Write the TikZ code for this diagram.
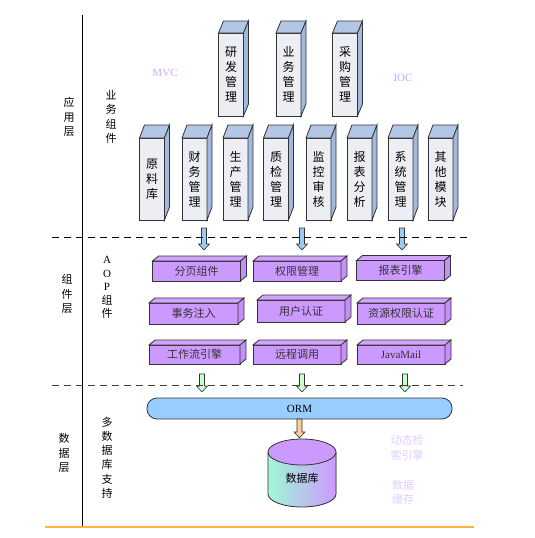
\documentclass[tikz,border=0pt]{standalone}
\usepackage{fontspec}
\setmainfont{Liberation Serif}
\newfontfamily\cjk{Noto Sans CJK SC}
\usetikzlibrary{calc}

\definecolor{facegray}{HTML}{EDEDF4}
\definecolor{facetop}{HTML}{B3C6E6}
\definecolor{faceside}{HTML}{A3B8DE}
\definecolor{violetfront}{HTML}{CC99FF}
\definecolor{violettop}{HTML}{D2A3FF}
\definecolor{violetside}{HTML}{C490F7}
\definecolor{ormblue}{HTML}{99CCFF}
\definecolor{arrowblue}{HTML}{9CCBF2}
\definecolor{arrowgreen}{HTML}{CCFFCC}
\definecolor{arroworange}{HTML}{FFCC99}
\definecolor{mint}{HTML}{A0F8D4}
\definecolor{labelviolet}{HTML}{CCA6FF}
\definecolor{paleviolet}{HTML}{E0CCFF}
\definecolor{lineorange}{HTML}{FFB340}
\definecolor{edge}{HTML}{333333}

% top and right faces of a box node
\newcommand{\boxfaces}[5]{%
    \draw[draw=edge, line width=0.8pt, fill=#4] (#1.north west) -- ++(#2,#3) -- ($(#1.north east)+(#2,#3)$) -- (#1.north east) -- cycle;
    \draw[draw=edge, line width=0.8pt, fill=#5] (#1.north east) -- ++(#2,#3) -- ($(#1.south east)+(#2,#3)$) -- (#1.south east) -- cycle;
}
% block arrow pointing down
\newcommand{\fatarrow}[3]{%
    \filldraw[draw=edge, line width=0.6pt, fill=#3] ($(#1)+(-2.5,0)$) -- ($(#2)+(-2.5,-6)$) -- ($(#2)+(-5.5,-6)$) -- (#2)
        -- ($(#2)+(5.5,-6)$) -- ($(#2)+(2.5,-6)$) -- ($(#1)+(2.5,0)$) -- cycle;
}

\begin{document}
\begin{tikzpicture}[x=1pt, y=-1pt,
    module/.style={draw=edge, line width=0.8pt, outer sep=0pt, inner sep=0pt, align=center},
    pillar/.style={module, fill=facegray, minimum width=25, minimum height=82, font=\cjk\fontsize{12}{15}\selectfont},
    slab/.style={module, fill=violetfront, text=edge, minimum width=88, minimum height=20, font=\cjk\fontsize{11}{13}\selectfont},
    sidelabel/.style={inner sep=0pt, align=center, font=\cjk\fontsize{11}{14.5}\selectfont},
    hint/.style={inner sep=0pt, align=center, font=\fontsize{11}{15}\selectfont},
    layerline/.style={black, line width=0.9pt, dash pattern=on 7pt off 5pt}
]
\useasboundingbox (0,0) rectangle (535,538);

% Left side: layer names
\draw[black, line width=1pt] (82,15) -- (82,527);
\node[sidelabel] (app) at (69,117) {应\\用\\层};
\node[sidelabel] (appsub) at (111,117) {业\\务\\组\\件};
\node[sidelabel] (comp) at (67,294) {组\\件\\层};
\node[sidelabel, font=\cjk\fontsize{11}{13.5}\selectfont] (aop) at (107,287.5) {{\rmfamily A}\\{\rmfamily O}\\{\rmfamily P}\\组\\件};
\node[sidelabel] (data) at (64,453) {数\\据\\层};
\node[sidelabel, font=\cjk\fontsize{11}{14.2}\selectfont] (datasub) at (107,457.5) {多\\数\\据\\库\\支\\持};

% Application layer: business modules
\begin{scope}
    \foreach \x/\lab [count=\i from 0] in {231/研\\发\\管\\理, 288.5/业\\务\\管\\理, 345/采\\购\\管\\理} {
        \node[pillar, minimum height=83] (T\i) at (\x,74.5) {\lab};
        \boxfaces{T\i}{5}{-12}{facetop}{faceside}
    }
    \foreach \x/\lab [count=\i from 0] in {152/原\\料\\库, 194.5/财\\务\\管\\理, 235.5/生\\产\\管\\理, 276/质\\检\\管\\理,
        318.5/监\\控\\审\\核, 359.5/报\\表\\分\\析, 400.5/系\\统\\管\\理, 440.5/其\\他\\模\\块} {
        \node[pillar] (B\i) at (\x,179) {\lab};
        \boxfaces{B\i}{5}{-13}{facetop}{faceside}
    }
    \node[hint, text=labelviolet] (mvc) at (165,73) {MVC};
    \node[hint, text=labelviolet] (ioc) at (403,78) {IOC};

    \foreach \x [count=\i] in {204,302,402} {
        \coordinate (up\i) at (\x,228);
        \coordinate (dn\i) at (\x,250);
        \fatarrow{up\i}{dn\i}{arrowblue}
    }
\end{scope}

\draw[layerline] (52,237) -- (467,237);

% Component layer: AOP components
\begin{scope}
    \node[slab] (C1) at (196.5,271) {分页组件};
    \node[slab] (C2) at (297,271) {权限管理};
    \node[slab] (C3) at (400.5,270.5) {报表引擎};
    \node[slab, minimum width=89, minimum height=21] (C4) at (193.5,313.5) {事务注入};
    \node[slab, minimum height=22] (C5) at (301,311) {用户认证};
    \node[slab, minimum height=21] (C6) at (401,313.5) {资源权限认证};
    \node[slab, minimum width=91, minimum height=19] (C7) at (194.5,354.5) {工作流引擎};
    \node[slab, minimum height=19] (C8) at (297,354.5) {远程调用};
    \node[slab, minimum height=19, font=\fontsize{11}{13}\selectfont] (C9) at (401,354.5) {JavaMail};
    \foreach \i in {1,...,9} {
        \boxfaces{C\i}{6}{-5}{violettop}{violetside}
    }

    \foreach \x [count=\i] in {202,302,405} {
        \coordinate (gs\i) at (\x,374);
        \coordinate (ge\i) at (\x,392);
        \fatarrow{gs\i}{ge\i}{arrowgreen}
    }
\end{scope}

\draw[layerline, black!75] (52,385) -- (463,385);

% Data layer: ORM and database
\begin{scope}
    \node[module, fill=ormblue, rounded corners=10pt, minimum width=305, minimum height=21, font=\fontsize{11}{13}\selectfont] (orm) at (299.5,408.5) {ORM};

    % cylinder
    \fill[left color=mint, right color=violetfront] (268,452) -- (268,494) arc[start angle=180, end angle=360, x radius=34pt, y radius=13pt] -- (336,452) -- cycle;
    \draw[edge, line width=0.8pt] (268,452) -- (268,494) arc[start angle=180, end angle=360, x radius=34pt, y radius=13pt] -- (336,452);
    \filldraw[draw=edge, line width=0.8pt, fill=violetfront] (302,452) ellipse[x radius=34pt, y radius=13pt];
    \node[inner sep=0pt, font=\cjk\fontsize{11}{13}\selectfont] (db) at (302,478) {数据库};

    \coordinate (dbtop) at (299.5,438);
    \fatarrow{orm.south}{dbtop}{arroworange}

    \node[hint, text=paleviolet, font=\cjk\fontsize{11}{15}\selectfont] (search) at (407,447.5) {动态检\\索引擎};
    \node[hint, text=paleviolet, font=\cjk\fontsize{11}{14}\selectfont] (cache) at (403,492) {数据\\缓存};
\end{scope}

\draw[lineorange, line width=1.2pt] (45,527) -- (474,527);

\end{tikzpicture}
\end{document}
